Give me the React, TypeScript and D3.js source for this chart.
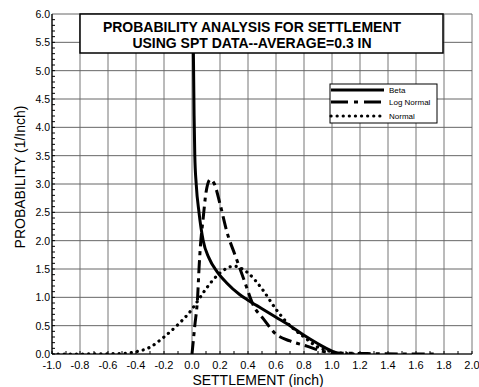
import React from 'react';
import * as d3 from 'd3';

const W = 479;
const H = 387;
const margin = { left: 52, right: 7, top: 14, bottom: 32 };

const xTicks = [-1.0, -0.8, -0.6, -0.4, -0.2, 0.0, 0.2, 0.4, 0.6, 0.8, 1.0, 1.2, 1.4, 1.6, 1.8, 2.0];
const yTicks = [0.0, 0.5, 1.0, 1.5, 2.0, 2.5, 3.0, 3.5, 4.0, 4.5, 5.0, 5.5, 6.0];

const titleLines = ['PROBABILITY ANALYSIS FOR SETTLEMENT', 'USING SPT DATA--AVERAGE=0.3 IN'];

// settlement (inch), probability (1/inch)
const betaX = [0.008, 0.01, 0.015, 0.02, 0.03, 0.05, 0.08, 0.12, 0.18, 0.25, 0.34, 0.4, 0.5, 0.6, 0.7, 0.8, 0.9, 1.0, 1.05];
const betaY = [5.95, 5.3, 4.2, 3.5, 3.0, 2.5, 2.0, 1.7, 1.45, 1.25, 1.05, 0.95, 0.8, 0.65, 0.5, 0.33, 0.18, 0.05, 0.0];

const logNormX = [0.0, 0.02, 0.04, 0.05, 0.06, 0.08, 0.1, 0.13, 0.16, 0.2, 0.25, 0.31, 0.37, 0.44, 0.51, 0.6, 0.7, 0.82, 0.93, 1.0, 1.2, 1.5, 1.75];
const logNormY = [0.0, 0.5, 1.0, 1.5, 1.9, 2.4, 2.85, 3.08, 3.0, 2.65, 2.15, 1.73, 1.32, 0.85, 0.62, 0.35, 0.23, 0.14, 0.05, 0.02, 0.01, 0.0, 0.0];

const normX = [-1.0, -0.8, -0.6, -0.5, -0.4, -0.3, -0.2, -0.1, 0.0, 0.05, 0.1, 0.2, 0.3, 0.4, 0.5, 0.6, 0.7, 0.8, 0.9, 1.0, 1.1, 1.2];
const normY = [0.0, 0.0, 0.005, 0.01, 0.04, 0.12, 0.3, 0.52, 0.79, 0.97, 1.15, 1.43, 1.55, 1.43, 1.15, 0.79, 0.5, 0.3, 0.12, 0.04, 0.01, 0.0];

const seriesNames = ['Beta', 'Log Normal', 'Normal'];

const font = 'Liberation Sans, Arial, sans-serif';

const styles = [
  { width: 3, dash: undefined, cap: 'butt' },
  { width: 3, dash: '13 5 4 5', cap: 'butt' },
  { width: 3.2, dash: '0.1 6', cap: 'round' },
];

export default function App() {
  const x = d3.scaleLinear().domain([-1, 2]).range([margin.left, W - margin.right]);
  const y = d3.scaleLinear().domain([0, 6]).range([H - margin.bottom - 1, margin.top]);

  const line = d3
    .line<[number, number]>()
    .x((d) => x(d[0]))
    .y((d) => y(d[1]))
    .curve(d3.curveMonotoneX);

  const series = [
    d3.zip(betaX, betaY) as [number, number][],
    d3.zip(logNormX, logNormY) as [number, number][],
    d3.zip(normX, normY) as [number, number][],
  ];

  const minorY = d3.range(0, 60).map((i) => i / 10);
  const minorX = d3.range(0, 31).map((i) => -1 + i / 10);

  const legendRows = [90, 102, 116];

  return (
    <svg width={W} height={H} style={{ position: 'absolute', left: 0, top: 0, background: '#fff' }}>
      <defs>
        <clipPath id="plot">
          <rect x={x(-1)} y={y(6)} width={x(2) - x(-1)} height={y(0) - y(6)} />
        </clipPath>
      </defs>

      {/* grid */}
      {xTicks.map((t) => (
        <line key={'gx' + t} x1={x(t)} x2={x(t)} y1={y(0)} y2={y(6)} stroke="#777" strokeWidth={1} />
      ))}
      {yTicks.map((t) => (
        <line key={'gy' + t} x1={x(-1)} x2={x(2)} y1={y(t)} y2={y(t)} stroke="#666" strokeWidth={1} />
      ))}

      {/* minor ticks */}
      {minorY.map((t) => (
        <line key={'my' + t} x1={x(-1)} x2={x(-1) + 3} y1={y(t)} y2={y(t)} stroke="#000" strokeWidth={1} />
      ))}
      {minorX.map((t) => (
        <line key={'mx' + t} x1={x(t)} x2={x(t)} y1={y(0)} y2={y(0) - 3} stroke="#000" strokeWidth={1} />
      ))}

      {/* axes */}
      <line x1={x(-1)} x2={x(-1)} y1={y(0)} y2={y(6)} stroke="#000" strokeWidth={1.2} />
      <line x1={x(-1)} x2={x(2)} y1={y(0)} y2={y(0)} stroke="#000" strokeWidth={1.2} />

      {/* curves */}
      <g clipPath="url(#plot)">
        {series.map((s, i) => (
          <path
            key={seriesNames[i]}
            d={line(s) || ''}
            fill="none"
            stroke="#000"
            strokeWidth={styles[i].width}
            strokeDasharray={styles[i].dash}
            strokeLinecap={styles[i].cap as any}
          />
        ))}
      </g>

      {/* tick labels */}
      {yTicks.map((t) => (
        <text key={'ly' + t} x={x(-1) - 2} y={y(t) + 4} fontSize={10.5} fontFamily={font} textAnchor="end">
          {t.toFixed(1)}
        </text>
      ))}
      {xTicks.map((t) => (
        <text key={'lx' + t} x={x(t)} y={y(0) + 15} fontSize={11} fontFamily={font} textAnchor="middle">
          {t.toFixed(1)}
        </text>
      ))}

      {/* axis titles */}
      <text x={258} y={385} fontSize={14} fontFamily={font} textAnchor="middle">
        SETTLEMENT (inch)
      </text>
      <text transform="translate(25,177) rotate(-90)" fontSize={14} fontFamily={font} textAnchor="middle">
        PROBABILITY (1/Inch)
      </text>

      {/* title box */}
      <rect x={80} y={14} width={363} height={39} fill="#fff" stroke="#000" strokeWidth={1.5} />
      {titleLines.map((t, i) => (
        <text key={t} x={252} y={32 + i * 16} fontSize={14} fontWeight="bold" fontFamily={font} textAnchor="middle">
          {t}
        </text>
      ))}

      {/* legend */}
      <rect x={330} y={84} width={107} height={39} fill="#fff" stroke="#000" strokeWidth={1} />
      {seriesNames.map((n, i) => (
        <g key={'leg' + n}>
          <line
            x1={331}
            x2={384}
            y1={legendRows[i]}
            y2={legendRows[i]}
            stroke="#000"
            strokeWidth={styles[i].width}
            strokeDasharray={i === 1 ? '17 6 4 6' : styles[i].dash}
            strokeLinecap={styles[i].cap as any}
          />
          <text x={389} y={legendRows[i] + 3} fontSize={8} fontFamily={font}>
            {n}
          </text>
        </g>
      ))}
    </svg>
  );
}
